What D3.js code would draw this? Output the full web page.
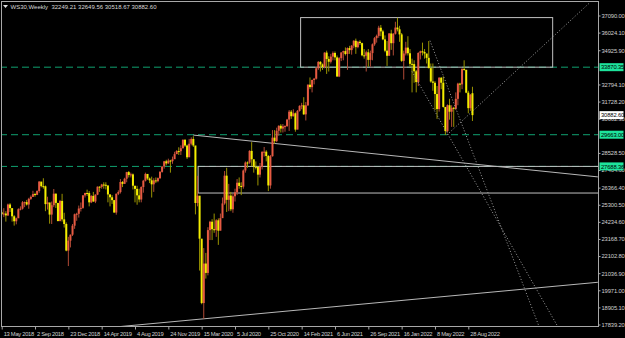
<!DOCTYPE html>
<html lang="en">
<head>
<meta charset="UTF-8">
<title>WS30 Weekly</title>
<script src="https://d3js.org/d3.v7.min.js"></script>
<style>
  body { margin: 0; background: #000; }
  svg { display: block; }
  .tick text { font-family: "Liberation Sans", Arial, sans-serif; font-size: 5.8px; fill: #d0d0d0; }
  .xax .tick text { letter-spacing: -0.3px; }
  .yax .tick text { letter-spacing: -0.12px; }
</style>
</head>
<body>
<div id="chart"></div>
<script>
// weekly candles, 13 May 2018 .. 11 Sep 2022
const opens = [
24831,24715,24753,24635,25317,25090,24581,24271,24456,25019,
25058,25451,25463,25313,25669,25790,25965,25917,26155,26744,
26458,26447,25340,25444,24688,25271,25989,25413,24286,25538,
24389,24100,22445,23062,23433,23996,24706,24737,25064,25106,
25883,26031,26026,25450,25849,25502,25929,26425,26412,26559,
26543,26505,25942,25764,25586,24815,25984,26090,26719,26600,
26922,27332,27154,27192,26485,26287,25886,25628,26403,26797,
27220,26935,26820,26573,26817,26770,26958,27347,27681,28005,
27876,28051,28015,28135,28455,28645,28634,28823,29348,28990,
28256,29102,29398,28992,25409,25864,23186,19174,21637,21053,
23719,24242,23775,23724,24331,23685,24465,25383,27111,25606,
25871,25016,25827,26075,26672,26470,26428,27433,27931,27930,
28654,28133,27666,27657,27174,27683,28587,28606,28336,26502,
28323,29480,29263,29910,30218,30046,30179,30200,30606,31098,
30814,30997,29983,31148,31458,31494,30932,31496,32779,32628,
33072,33153,33800,34200,34043,33875,34778,34382,34208,34529,
34756,34480,33290,34433,34786,34870,34688,35061,34935,35209,
35515,35120,35455,35369,34608,34584,34798,34326,34746,35295,
35677,35820,36328,36100,35602,34899,34580,35971,35365,35950,
36338,36231,35912,34265,34725,35089,34738,34079,34059,33614,
32944,34755,34861,34818,34721,34451,33811,32977,32899,32197,
31262,33213,32900,31393,29889,31501,31097,31338,31289,31899,
32845,32803,33761,33707,32283,31318,32249];
const highs = [
24990,25086,24900,25370,25400,25050,24650,24500,25080,25200,
25530,25500,25600,25730,25880,26170,26050,26200,26770,26700,
26950,26500,25800,25400,25500,26280,26000,25400,25600,25980,
24800,24200,23300,23450,24100,24750,24800,25250,25440,25900,
26050,26240,26150,25900,26100,25950,26440,26450,26600,26700,
26700,26400,25950,25900,25600,26000,26200,26900,26780,26980,
27350,27400,27300,27250,26400,26480,26300,26450,26850,27300,
27200,27000,27050,26950,27000,27000,27400,27700,28030,28100,
28170,28100,28300,28600,28700,28880,29000,29370,29380,29050,
29400,29500,29570,28700,27100,25400,23100,22600,22300,23900,
24300,24400,24750,24400,24450,24750,25750,27400,27600,26600,
26100,26000,26300,26900,27000,26700,27500,28000,28000,28700,
29200,28100,28000,27700,27900,28650,28900,28700,28400,28400,
29950,29950,30100,30250,30320,30330,30250,30650,31200,31200,
31250,31050,31200,31500,31650,32000,31700,32800,33230,33100,
33200,33850,34250,34250,34100,34800,34900,34550,34700,34850,
34850,34600,34500,34800,34900,35100,35100,35200,35250,35550,
35650,35500,35550,35400,35000,34900,35000,34900,35350,35750,
35900,36450,36500,36200,35850,35500,36000,36200,36000,36700,
36950,36450,36000,34900,35450,35800,35000,34400,34300,33700,
34800,34900,35400,35000,34700,35500,34100,34100,33000,32700,
33250,33250,33300,31300,31550,31900,31500,31400,32300,32900,
32900,33800,34300,33700,32400,32200,32650];
const lows = [
24650,24530,24250,24600,24850,24250,24000,24080,24500,24950,
25000,25150,25250,25050,25600,25800,25800,25900,26050,26380,
26300,24900,25000,24120,24100,25150,25100,24260,24260,24250,
23880,22400,21480,22640,23350,23800,24300,24500,24880,25050,
25750,25850,25200,25400,25480,25400,25900,26100,26300,26300,
26250,25450,25200,25350,24800,24680,25900,26000,26400,26600,
26700,27000,27000,26250,25450,25300,25450,25450,26050,26750,
26850,26650,25750,26100,26650,26700,26900,27300,27550,27750,
27850,27300,27850,28150,28450,28400,28400,28800,28900,28150,
28300,29000,28900,24700,25200,21200,19100,18200,20700,20900,
23100,23100,23550,23300,22800,23700,24700,25300,24850,24900,
24900,24800,25500,25900,26300,25900,26300,27300,27600,27850,
27700,27300,27500,26500,27000,27500,28300,28000,26150,26300,
28300,29100,29200,29600,29800,29800,29850,30150,29900,30650,
30800,29850,30000,31100,31250,30900,30550,31450,32500,32300,
32800,33100,33700,33600,33700,33800,33450,33600,34100,34300,
34300,33270,33250,34250,34300,34600,33700,34700,34650,35050,
34700,35050,35250,34550,34400,33600,33900,33900,34300,35200,
35400,35700,35800,35550,34800,33950,34600,34950,34600,35900,
36100,35450,34200,33100,34600,34600,33900,32300,32900,32300,
32700,34350,34600,34400,34100,33800,32900,32400,31200,30650,
31100,32500,31350,29650,29800,30600,30150,30150,31200,31500,
32300,32500,33650,32250,31000,31150,30519];
const closes = [
24715,24753,24635,25317,25090,24581,24271,24456,25019,25058,
25451,25463,25313,25669,25790,25965,25917,26155,26744,26458,
26447,25340,25444,24688,25271,25989,25413,24286,25538,24389,
24100,22445,23062,23433,23996,24706,24737,25064,25106,25883,
26031,26026,25450,25849,25502,25929,26425,26412,26559,26543,
26505,25942,25764,25586,24815,25984,26090,26719,26600,26922,
27332,27154,27192,26485,26287,25886,25628,26403,26797,27220,
26935,26820,26573,26817,26770,26958,27347,27681,28005,27876,
28051,28015,28135,28455,28645,28634,28823,29348,28990,28256,
29102,29398,28992,25409,25864,23186,19174,21637,21053,23719,
24242,23775,23724,24331,23685,24465,25383,27111,25606,25871,
25016,25827,26075,26672,26470,26428,27433,27931,27930,28654,
28133,27666,27657,27174,27683,28587,28606,28336,26502,28323,
29480,29263,29910,30218,30046,30179,30200,30606,31098,30814,
30997,29983,31148,31458,31494,30932,31496,32779,32628,33072,
33153,33800,34200,34043,33875,34778,34382,34208,34529,34756,
34480,33290,34433,34786,34870,34688,35061,34935,35209,35515,
35120,35455,35369,34608,34584,34798,34326,34746,35295,35677,
35820,36328,36100,35602,34899,34580,35971,35365,35950,36338,
36231,35912,34265,34725,35089,34738,34079,34059,33614,32944,
34755,34861,34818,34721,34451,33811,32977,32899,32197,31262,
33213,32900,31393,29889,31501,31097,31338,31289,31899,32845,
32803,33761,33707,32283,31318,32152,30882.6];

const dateTicks = ["13 May 2018","2 Sep 2018","23 Dec 2018","14 Apr 2019","4 Aug 2019","24 Nov 2019",
  "15 Mar 2020","5 Jul 2020","25 Oct 2020","14 Feb 2021","6 Jun 2021","26 Sep 2021","16 Jan 2022",
  "8 May 2022","28 Aug 2022"];
// scale labels that are not covered by a price tag
const priceTicks = [37090.00,36024.10,34925.90,32794.10,31728.20,30662.30,28528.50,
  27464.60,26366.40,25300.50,24234.60,23168.70,22102.80,21036.90,19971.00,18905.10,17839.20];
const levelPrices = [33870.35, 29663.00, 27688.36];
const lastPrice = 30882.60;
const title = "WS30,Weekly  32249.21 32649.56 30518.67 30882.60";

// drawn objects, anchored on bar index / price
const boxes = [
  {i0: 143.5, i1: 264.5, p0: 36960, p1: 33870.35},
  {i0: 94.3, i1: 300, p0: 27688.36, p1: 26030}
];
const trendLines = [
  {i0: 92, p0: 29640, i1: 286.2, p1: 27035},
  {i0: 56, p0: 17700, i1: 286.2, p1: 20470}
];
const dotLines = [
  {i0: 205.6, p0: 35520, i1: 258, p1: 17700},
  {i0: 197, p0: 33600, i1: 267, p1: 17700},
  {i0: 213.8, p0: 29660, i1: 282.4, p1: 37900}
];

const W = 625, H = 338, PR = 598.5, PB = 326.5;
const FONT = "Liberation Sans, Arial, sans-serif";
const svg = d3.select("#chart").append("svg").attr("width", W).attr("height", H);
svg.append("rect").attr("width", W).attr("height", H).attr("fill", "#000");

const x = d3.scaleLinear().domain([0, 224]).range([1.7, 468.3]);
const y = d3.scaleLinear().domain([17839.2, 37090]).range([324.5, 15.5]);

svg.append("clipPath").attr("id", "plot").append("rect")
  .attr("x", 1).attr("y", 1).attr("width", PR - 1).attr("height", PB - 1);
const plot = svg.append("g").attr("clip-path", "url(#plot)");

// green support/resistance levels
plot.selectAll("line.level").data(levelPrices).join("line")
  .attr("class", "level")
  .attr("x1", 0).attr("x2", PR)
  .attr("y1", d => y(d)).attr("y2", d => y(d))
  .attr("stroke", "#10a070").attr("stroke-width", 1)
  .attr("stroke-dasharray", "7,4");

// rectangles
plot.selectAll("rect.box").data(boxes).join("rect")
  .attr("class", "box")
  .attr("x", d => x(d.i0)).attr("y", d => y(d.p0))
  .attr("width", d => x(d.i1) - x(d.i0)).attr("height", d => y(d.p1) - y(d.p0))
  .attr("fill", "none").attr("stroke", "#c0c0c0").attr("stroke-width", 1);

plot.selectAll("line.trend").data(trendLines).join("line")
  .attr("class", "trend")
  .attr("x1", d => x(d.i0)).attr("y1", d => y(d.p0))
  .attr("x2", d => x(d.i1)).attr("y2", d => y(d.p1))
  .attr("stroke", "#b8b8b8").attr("stroke-width", 1);

// candles
const bars = d3.range(closes.length);
const upCol = "#e65a42", dnCol = "#f4ee00";
plot.selectAll("line.wick").data(bars).join("line")
  .attr("class", "wick")
  .attr("x1", i => x(i)).attr("x2", i => x(i))
  .attr("y1", i => y(highs[i])).attr("y2", i => y(lows[i]))
  .attr("stroke", i => closes[i] >= opens[i] ? "#b04a36" : "#9a9400")
  .attr("stroke-width", 1);
plot.selectAll("rect.body").data(bars).join("rect")
  .attr("class", "body")
  .attr("x", i => x(i) - 1)
  .attr("width", 2)
  .attr("y", i => y(Math.max(opens[i], closes[i])))
  .attr("height", i => Math.max(1, Math.abs(y(opens[i]) - y(closes[i]))))
  .attr("fill", i => closes[i] >= opens[i] ? upCol : dnCol);

plot.selectAll("line.dot").data(dotLines).join("line")
  .attr("class", "dot")
  .attr("x1", d => x(d.i0)).attr("y1", d => y(d.p0))
  .attr("x2", d => x(d.i1)).attr("y2", d => y(d.p1))
  .attr("stroke", "#a0a0a0").attr("stroke-width", 1)
  .attr("stroke-dasharray", "1,2");

// frame
svg.append("rect").attr("x", 1.5).attr("y", 1.5).attr("width", PR - 1.5).attr("height", PB - 1.5)
  .attr("fill", "none").attr("stroke", "#a8a8a8").attr("stroke-width", 1);

// axes
const yAxis = d3.axisRight(y).tickValues(priceTicks).tickFormat(d3.format(".2f"))
  .tickSize(2).tickPadding(1);
const gy = svg.append("g").attr("class", "yax").attr("transform", `translate(${PR},0)`).call(yAxis);
gy.select(".domain").remove();
gy.selectAll(".tick line").attr("stroke", "#a8a8a8");

const xAxis = d3.axisBottom(x).tickValues(d3.range(0, 225, 16))
  .tickFormat((d, i) => dateTicks[i]).tickSize(3).tickPadding(2.5);
const gx = svg.append("g").attr("class", "xax").attr("transform", `translate(0,${PB})`).call(xAxis);
gx.select(".domain").remove();
gx.selectAll(".tick line").attr("stroke", "#a8a8a8");
gx.selectAll(".tick text").attr("text-anchor", "start").attr("x", 1.5);

// price tags on the right scale
const tags = levelPrices.map(p => ({p, bg: "#1de39c"})).concat([{p: lastPrice, bg: "#ffffff"}]);
const tg = svg.selectAll("g.tag").data(tags).join("g").attr("class", "tag")
  .attr("transform", d => `translate(${PR + 1},${y(d.p)})`);
tg.append("rect").attr("x", 0).attr("y", -4).attr("width", 24).attr("height", 8).attr("fill", d => d.bg);
tg.append("text").attr("x", 1.5).attr("y", 2.1)
  .attr("font-family", FONT).attr("font-size", "5.8px").attr("letter-spacing", "-0.12px")
  .attr("fill", "#000").text(d => d3.format(".2f")(d.p));

// title
svg.append("path").attr("d", "M3,5 L8,5 L5.5,8 Z").attr("fill", "#e0e0e0");
svg.append("text").attr("x", 10.5).attr("y", 9)
  .attr("font-family", FONT).attr("font-size", "6px")
  .attr("fill", "#d8d8d8").attr("xml:space", "preserve").text(title);
</script>
</body>
</html>
